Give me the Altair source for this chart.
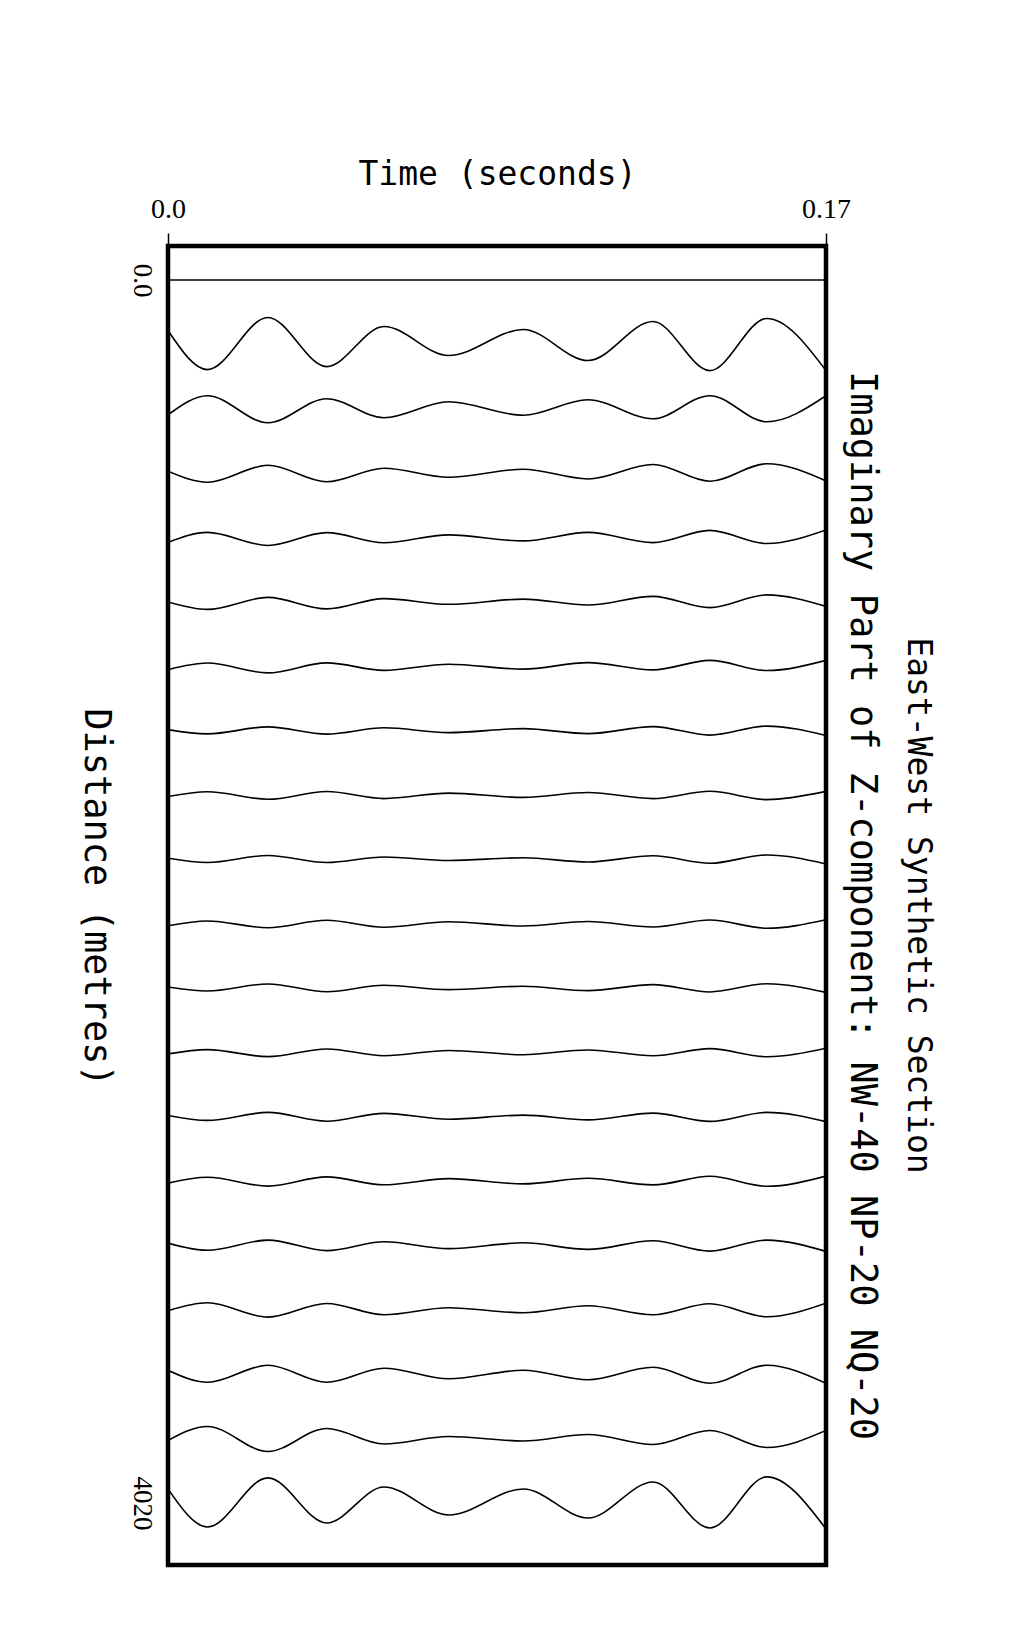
import altair as alt
import pandas as pd

# Time samples (seconds) at the extrema of the wiggles
times = [0.0, 0.0102, 0.0258, 0.0410, 0.0558, 0.0725, 0.0918, 0.1085, 0.1253, 0.1400, 0.1547, 0.17]

# Trace offsets (metres)
distances = [0, 212, 423, 635, 846, 1058, 1270, 1481, 1693, 1904,
             2116, 2327, 2539, 2751, 2962, 3174, 3385, 3597, 3808, 4020]

# Trace amplitudes (relative units) read at each time sample
amp_00 = [0, 0, 0, 0, 0, 0, 0, 0, 0, 0, 0, 0]
amp_01 = [14, -25, 27, -22, 18, -11, 15, -16, 23, -26, 26, -26]
amp_02 = [-6, 13, -14, 10, -9, 7, -6.5, 9, -10, 13, -13, 13]
amp_03 = [2, -9, 8, -8.5, 5, -4, 4, -5.7, 8.8, -8, 9.5, -7.7]
amp_04 = [-5, 5, -8, 4.8, -5.3, 2.5, -3.5, 5, -5.2, 7, -6.1, 7.5]
amp_05 = [0, -7.5, 4.5, -7, 3.3, -2.4, 2.8, -3.1, 5.5, -5.7, 7, -4.5]
amp_06 = [-3.3, 3.4, -6.5, 3.5, -4, 2.2, -2.7, 3.8, -3.5, 6, -4.1, 6]
amp_07 = [1, -3.3, 3.7, -3.5, 2.8, -2, 2, -3, 4, -4.5, 4.5, -5]
amp_08 = [-1.5, 3.3, -4.2, 3.5, -3.5, 2, -2.3, 2.5, -3.5, 3.8, -4.5, 3.7]
amp_09 = [1, -3.2, 3.8, -3.3, 2.3, -1.3, 1.5, -2.7, 3.5, -4, 4.3, -4.7]
amp_10 = [-2, 2.8, -4, 3.5, -3.5, 2, -2.2, 2.2, -3.3, 3.7, -4.5, 4]
amp_11 = [1, -3, 4, -3.8, 2.7, -1.7, 1.7, -2.7, 3.3, -4, 4.2, -4.5]
amp_12 = [-1.5, 2.8, -4.2, 3.5, -3.3, 2, -2.3, 2.5, -3.3, 3.8, -4.3, 4.2]
amp_13 = [1.5, -3.5, 4.5, -4.3, 3.5, -2.3, 1.8, -3, 3.8, -4.5, 4.5, -4.7]
amp_14 = [-2, 3.8, -5, 4.2, -3.7, 2.5, -2.8, 2.8, -3.8, 4.8, -5.2, 5]
amp_15 = [2.5, -4.7, 5.5, -5, 3.8, -3, 2.8, -3.8, 4.8, -5.5, 5.5, -5.8]
amp_16 = [-1, 7, -7.3, 6.3, -5, 2, -3, 4, -5, 6, -7, 6.5]
amp_17 = [4, -8, 9, -8, 6, -4.5, 4, -5.5, 7, -9, 9, -9]
amp_18 = [-2, 12, -13, 10, -5.5, 2, -2.5, 4, -6, 8, -9, 8]
amp_19 = [14, -24, 25, -20, 16, -12, 14, -15, 21, -25, 26, -26]

traces = [amp_00, amp_01, amp_02, amp_03, amp_04, amp_05, amp_06, amp_07, amp_08, amp_09,
          amp_10, amp_11, amp_12, amp_13, amp_14, amp_15, amp_16, amp_17, amp_18, amp_19]

GAIN = 3.29  # metres of offset per amplitude unit

rows = []
for k, (d, amps) in enumerate(zip(distances, traces)):
    for t, a in zip(times, amps):
        rows.append({"trace": k, "time": t, "dist": d, "amp": a})
df = pd.DataFrame(rows)

MONO = "DejaVu Sans Mono"
SERIF = "Liberation Serif"

chart = alt.Chart(df).transform_calculate(
    ypos=f"datum.dist - datum.amp * {GAIN}"
).mark_line(
    interpolate="monotone", color="black", strokeWidth=1.6, clip=True
).encode(
    x=alt.X(
        "time:Q",
        scale=alt.Scale(domain=[0, 0.17], nice=False, zero=False),
        axis=alt.Axis(
            orient="top", values=[0, 0.17],
            labelExpr="datum.value == 0 ? '0.0' : '0.17'",
            title="Time (seconds)", titleFont=MONO, titleFontSize=33,
            titleFontWeight="normal", titleColor="black",
            titleX=329, titleY=-72, titleBaseline="middle", titleAlign="center",
            labelFont=SERIF, labelFontSize=28, labelColor="black",
            labelFlush=False, labelOverlap=False, labelPadding=10,
            tickSize=13, tickWidth=1.5, tickColor="black",
            domain=False, grid=False,
        ),
    ),
    y=alt.Y(
        "ypos:Q",
        scale=alt.Scale(domain=[-112, 4224], reverse=True, nice=False, zero=False),
        axis=alt.Axis(
            orient="left", values=[0, 4020],
            labelExpr="datum.value == 0 ? '0.0' : format(datum.value, 'd')",
            labelAngle=90, labelAlign="center", labelBaseline="top",
            labelFont=SERIF, labelFontSize=27, labelColor="black",
            labelFlush=False, labelOverlap=False, labelPadding=14,
            ticks=False, tickSize=0, domain=False, grid=False,
            title="Distance (metres)", titleFont=MONO, titleFontSize=37,
            titleFontWeight="normal", titleColor="black",
            titleAngle=90, titleBaseline="top", titleAlign="center",
            titleX=-55, titleY=651,
        ),
    ),
    detail="trace:N",
).properties(
    width=658,
    height=1319,
    padding={"left": 160, "top": 238, "right": 190, "bottom": 50},
    autosize=alt.AutoSizeParams(type="none"),
    title=alt.TitleParams(
        text="East-West Synthetic Section",
        subtitle="Imaginary Part of Z-component: NW-40 NP-20 NQ-20",
        orient="right", anchor="middle",
        font=MONO, fontSize=33, fontWeight="normal", color="black",
        subtitleFont=MONO, subtitleFontSize=37, subtitleColor="black",
        subtitleFontWeight="normal",
        offset=-7, subtitlePadding=21,
    ),
).configure(
    background="white",
    view=alt.ViewConfig(stroke="black", strokeWidth=4.5),
)

chart.save("out.html", embed_options={"renderer": "svg", "actions": False})
